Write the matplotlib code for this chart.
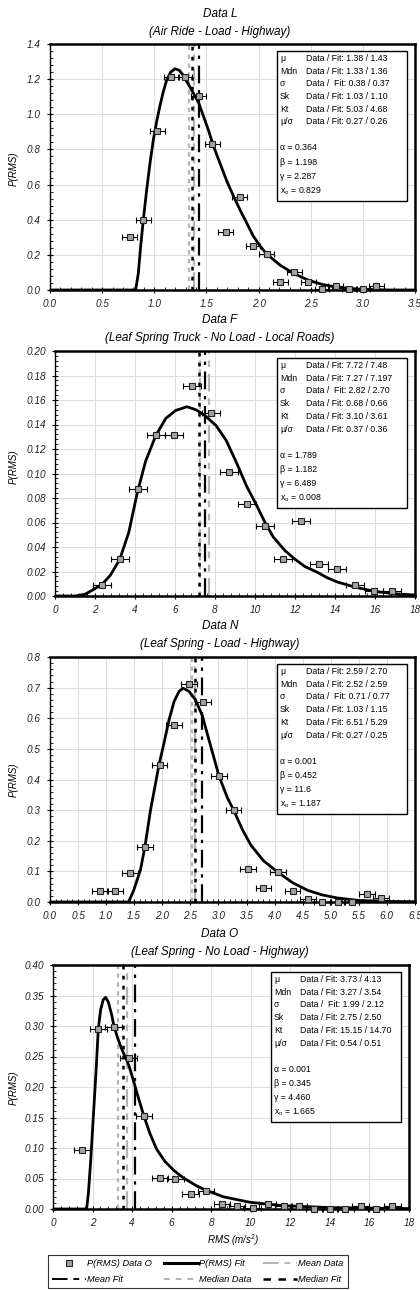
import matplotlib
matplotlib.use('Agg')
import matplotlib.pyplot as plt
from matplotlib.patches import Rectangle
from matplotlib.lines import Line2D
from matplotlib.ticker import MultipleLocator, AutoMinorLocator, FormatStrFormatter

plt.rcParams['font.family'] = ['Liberation Sans', 'DejaVu Sans']
plt.rcParams['mathtext.fontset'] = 'custom'
plt.rcParams['mathtext.rm'] = 'Liberation Sans'
plt.rcParams['mathtext.it'] = 'Liberation Sans:italic'

# ---- Data L (Air Ride - Load - Highway) ----
l_x = [0.764, 0.895, 1.029, 1.163, 1.294, 1.426, 1.556, 1.684, 1.819, 1.946,
       2.077, 2.21, 2.343, 2.477, 2.608, 2.739, 2.87, 3.0, 3.13]
l_y = [0.300, 0.399, 0.904, 1.210, 1.210, 1.105, 0.832, 0.329, 0.528, 0.253,
       0.205, 0.047, 0.103, 0.047, 0.004, 0.025, 0.004, 0.004, 0.025]
l_fit_x = [0.0, 0.821, 0.847, 0.869, 0.895, 0.927, 0.959, 0.991, 1.023, 1.055,
           1.087, 1.119, 1.157, 1.199, 1.240, 1.278, 1.326, 1.374, 1.426, 1.471,
           1.519, 1.567, 1.631, 1.695, 1.759, 1.823, 1.887, 1.951, 2.015, 2.077,
           2.21, 2.343, 2.477, 2.608, 2.739, 2.87, 3.0, 3.13, 3.25, 3.5]
l_fit_y = [0.0, 0.0, 0.095, 0.247, 0.399, 0.570, 0.722, 0.855, 0.960, 1.050,
           1.130, 1.195, 1.240, 1.259, 1.250, 1.222, 1.172, 1.121, 1.064, 0.990,
           0.910, 0.820, 0.720, 0.620, 0.535, 0.455, 0.380, 0.305, 0.250, 0.205,
           0.140, 0.092, 0.056, 0.032, 0.017, 0.009, 0.004, 0.0015, 0.0, 0.0]
l_stats = [('1.38', '1.43'), ('1.33', '1.36'), ('0.38', '0.37'),
           ('1.03', '1.10'), ('5.03', '4.68'), ('0.27', '0.26')]
l_params = ['0.364', '1.198', '2.287', '0.829']

# ---- Data F (Leaf Spring Truck - No Load - Local Roads) ----
f_x = [2.35, 3.24, 4.15, 5.05, 5.94, 6.83, 7.79, 8.70, 9.59, 10.49,
       11.40, 12.31, 13.20, 14.10, 15.01, 15.95, 16.84]
f_y = [0.009, 0.0305, 0.0876, 0.1314, 0.1314, 0.1714, 0.1497, 0.101, 0.0748, 0.0574,
       0.0305, 0.0615, 0.0264, 0.0223, 0.009, 0.004, 0.004]
f_fit_x = [0.0, 1.0, 1.5, 2.0, 2.35, 2.77, 3.24, 3.69, 4.11, 4.53, 5.04, 5.54,
           6.04, 6.6, 7.05, 7.47, 8.06, 8.56, 9.07, 9.57, 10.08, 10.5, 10.92,
           11.5, 12.0, 12.5, 13.1, 13.6, 14.1, 15.0, 16.0, 17.0, 18.0]
f_fit_y = [0.0, 0.0, 0.0014, 0.006, 0.0095, 0.017, 0.030, 0.052, 0.084, 0.110,
           0.131, 0.145, 0.1515, 0.1545, 0.152, 0.1477, 0.139, 0.127, 0.109, 0.090,
           0.074, 0.060, 0.048, 0.037, 0.030, 0.024, 0.0195, 0.015, 0.0115, 0.0072,
           0.0037, 0.0018, 0.0008]
f_stats = [('7.72', '7.48'), ('7.27', '7.197'), ('2.82', '2.70'),
           ('0.68', '0.66'), ('3.10', '3.61'), ('0.37', '0.36')]
f_params = ['1.789', '1.182', '6.489', '0.008']

# ---- Data N (Leaf Spring - Load - Highway) ----
n_x = [0.889, 1.163, 1.431, 1.688, 1.95, 2.21, 2.475, 2.73, 3.005, 3.27,
       3.52, 3.80, 4.06, 4.32, 4.59, 4.85, 5.12, 5.37, 5.65, 5.90]
n_y = [0.035, 0.035, 0.096, 0.180, 0.447, 0.579, 0.711, 0.652, 0.410, 0.301,
       0.108, 0.047, 0.097, 0.035, 0.010, 0.0, 0.0, 0.0, 0.025, 0.012]
n_fit_x = [0.0, 1.40, 1.49, 1.61, 1.69, 1.79, 1.88, 1.94, 2.03, 2.12, 2.21,
           2.30, 2.37, 2.475, 2.59, 2.71, 2.86, 3.01, 3.16, 3.27, 3.43, 3.58,
           3.80, 4.06, 4.32, 4.59, 4.85, 5.12, 5.5, 6.0, 6.5]
n_fit_y = [0.0, 0.0, 0.038, 0.104, 0.180, 0.300, 0.388, 0.447, 0.519, 0.595, 0.655,
           0.688, 0.698, 0.688, 0.660, 0.610, 0.510, 0.411, 0.340, 0.300, 0.235, 0.185,
           0.135, 0.097, 0.063, 0.038, 0.023, 0.013, 0.005, 0.002, 0.001]
n_stats = [('2.59', '2.70'), ('2.52', '2.59'), ('0.71', '0.77'),
           ('1.03', '1.15'), ('6.51', '5.29'), ('0.27', '0.25')]
n_params = ['0.001', '0.452', '11.6', '1.187']

# ---- Data O (Leaf Spring - No Load - Highway) ----
o_x = [1.46, 2.29, 3.07, 3.83, 4.60, 5.41, 6.19, 6.96, 7.73, 8.54, 9.31,
       10.09, 10.85, 11.66, 12.44, 13.21, 14.0, 14.78, 15.56, 16.33, 17.16]
o_y = [0.096, 0.295, 0.299, 0.247, 0.152, 0.051, 0.049, 0.0246, 0.029, 0.0087, 0.0044,
       0.0011, 0.0087, 0.0044, 0.0044, 0.0007, 0.0007, 0.0007, 0.0044, 0.0007, 0.0044]
o_fit_x = [0.0, 1.70, 1.79, 1.91, 2.04, 2.18, 2.29, 2.41, 2.54, 2.66, 2.80, 2.97,
           3.07, 3.25, 3.44, 3.64, 3.83, 4.07, 4.32, 4.60, 4.91, 5.24, 5.66, 6.12,
           6.59, 7.26, 7.72, 8.61, 9.96, 11.6, 14.1, 18.0]
o_fit_y = [0.0, 0.0, 0.026, 0.081, 0.152, 0.228, 0.295, 0.327, 0.343, 0.347, 0.339, 0.318,
           0.302, 0.282, 0.265, 0.250, 0.236, 0.210, 0.182, 0.152, 0.123, 0.098, 0.078, 0.063,
           0.051, 0.038, 0.031, 0.020, 0.011, 0.0055, 0.0022, 0.0007]
o_stats = [('3.73', '4.13'), ('3.27', '3.54'), ('1.99', '2.12'),
           ('2.75', '2.50'), ('15.15', '14.70'), ('0.54', '0.51')]
o_params = ['0.001', '0.345', '4.460', '1.665']

stat_names = ['\u03bc', 'Mdn', '\u03c3', 'Sk', 'Kt', '\u03bc/\u03c3']
param_names = ['\u03b1', '\u03b2', '\u03b3', 'x$_\\mathregular{o}$']

GRAY = '#b4b4b4'
MARK = '#a3a3a3'
W, H = 420, 1290

fig = plt.figure(figsize=(4.2, 12.9), dpi=100)


def px_axes(left, top, right, bottom):
    # pixel box -> figure fraction
    return [left / W, 1 - bottom / H, (right - left) / W, (bottom - top) / H]


def draw_panel(box, title, subtitle, title_y, ylab_y, px, py, xerr, fx, fy,
               stats, params, xmax, xstep, ymax, ystep, xfmt, yfmt):
    ax = fig.add_axes(px_axes(*box))
    ax.set_xlim(0, xmax)
    ax.set_ylim(0, ymax)
    ax.xaxis.set_major_locator(MultipleLocator(xstep))
    ax.yaxis.set_major_locator(MultipleLocator(ystep))
    ax.xaxis.set_minor_locator(AutoMinorLocator(5))
    ax.yaxis.set_minor_locator(AutoMinorLocator(5))
    ax.xaxis.set_major_formatter(FormatStrFormatter(xfmt))
    ax.yaxis.set_major_formatter(FormatStrFormatter(yfmt))
    ax.grid(True, which='major', color='#dcdcdc', lw=0.7)
    ax.set_axisbelow(True)
    ax.tick_params(which='major', direction='inout', length=5, width=0.8,
                   labelsize=7.2, pad=4, labelcolor='#222222')
    ax.tick_params(which='minor', direction='in', length=2.5, width=0.6)
    for lab in ax.get_xticklabels() + ax.get_yticklabels():
        lab.set_style('italic')
    for s in ['top', 'right', 'bottom']:
        ax.spines[s].set_linewidth(1.8)
    ax.spines['left'].set_linewidth(1.0)

    # mean / median lines
    mean_d, mean_f = float(stats[0][0]), float(stats[0][1])
    med_d, med_f = float(stats[1][0]), float(stats[1][1])
    ax.axvline(med_d, color=GRAY, lw=1.6, dashes=(2, 2), zorder=2)
    ax.axvline(mean_d, color=GRAY, lw=1.6, dashes=(8, 3, 3, 3, 3, 3), zorder=2)
    ax.axvline(med_f, color='k', lw=1.8, dashes=(1.5, 2.5), zorder=2)
    ax.axvline(mean_f, color='k', lw=1.6, dashes=(8, 3, 1.5, 3), zorder=2)

    ax.plot(fx, fy, color='k', lw=2, zorder=4)
    eb = ax.errorbar(px, py, xerr=xerr, fmt='s', ms=5, mfc=MARK, mec='#222222',
                     mew=0.8, ecolor='k', elinewidth=0.8, capsize=2.2,
                     capthick=0.8, zorder=5)
    for art in eb.get_children():
        art.set_clip_on(False)

    # stats box (pixel offsets from the axes corner)
    aw, ah = box[2] - box[0], box[3] - box[1]
    bl, bt, bw, bh = aw - 138, 7, 130, 150
    ax.add_patch(Rectangle((bl / aw, 1 - (bt + bh) / ah), bw / aw, bh / ah,
                           transform=ax.transAxes, fc='white', ec='k', lw=1.0,
                           zorder=6))
    for i, (name, (d, f)) in enumerate(zip(stat_names, stats)):
        yy = 1 - (bt + 7.5 + i * 12.7) / ah
        ax.text((bl + 3) / aw, yy, name, transform=ax.transAxes, fontsize=6.3,
                va='center', zorder=7)
        sep = ' /  Fit: ' if name == '\u03c3' else ' / Fit: '
        ax.text((bl + 29) / aw, yy, 'Data' + sep + d + ' / ' + f,
                transform=ax.transAxes, fontsize=6.3, va='center', zorder=7)
    for i, (name, val) in enumerate(zip(param_names, params)):
        yy = 1 - (bt + 97 + i * 14.4) / ah
        ax.text((bl + 3) / aw, yy, name + ' = ' + val, transform=ax.transAxes,
                fontsize=6.3, va='center', zorder=7)

    fig.text(220 / W, 1 - title_y / H, title, ha='center', va='center',
             style='italic', fontsize=8.5)
    fig.text(220 / W, 1 - (title_y + 18) / H, subtitle, ha='center', va='center',
             style='italic', fontsize=8.5)
    fig.text(14 / W, 1 - ylab_y / H, 'P(RMS)', rotation=90, ha='center',
             va='center', style='italic', fontsize=7)
    return ax


draw_panel((50, 44, 415, 290), 'Data L', '(Air Ride - Load - Highway)', 14, 169,
           l_x, l_y, 0.07, l_fit_x, l_fit_y, l_stats, l_params,
           3.5, 0.5, 1.4, 0.2, '%.1f', '%.1f')
draw_panel((55, 351, 415, 596), 'Data F', '(Leaf Spring Truck - No Load - Local Roads)',
           320, 467, f_x, f_y, 0.45, f_fit_x, f_fit_y, f_stats, f_params,
           18, 2, 0.2, 0.02, '%d', '%.2f')
draw_panel((50, 657, 415, 902), 'Data N', '(Leaf Spring - Load - Highway)', 626, 780,
           n_x, n_y, 0.14, n_fit_x, n_fit_y, n_stats, n_params,
           6.5, 0.5, 0.8, 0.1, '%.1f', '%.1f')
draw_panel((53, 965, 409, 1209), 'Data O', '(Leaf Spring - No Load - Highway)', 934, 1088,
           o_x, o_y, 0.42, o_fit_x, o_fit_y, o_stats, o_params,
           18, 2, 0.4, 0.05, '%d', '%.2f')

fig.text(233 / W, 1 - 1240 / H, 'RMS (m/s$^{2}$)', ha='center', va='center',
         style='italic', fontsize=7)

# legend, filled column by column -> order picked so rows read like the original
h_data = Line2D([], [], ls='none', marker='s', ms=5, mfc=MARK, mec='#222222', mew=0.8)
h_fit = Line2D([], [], color='k', lw=2.2)
h_mean_d = Line2D([], [], color=GRAY, lw=1.4, dashes=(8, 3, 3, 3, 3, 3))
h_mean_f = Line2D([], [], color='k', lw=1.4, dashes=(8, 3, 3, 3))
h_med_d = Line2D([], [], color=GRAY, lw=1.4, dashes=(3, 3))
h_med_f = Line2D([], [], color='k', lw=1.8, dashes=(3, 3))
handles = [h_data, h_mean_f, h_fit, h_med_d, h_mean_d, h_med_f]
labels = ['P(RMS) Data O', 'Mean Fit', 'P(RMS) Fit', 'Median Data',
          'Mean Data', 'Median Fit']
leg = fig.legend(handles, labels, ncol=3, loc='upper left',
                 bbox_to_anchor=(48 / W, 1 - 1255 / H),
                 fontsize=6.7, frameon=True, fancybox=False,
                 edgecolor='k', handlelength=3.6, handletextpad=0.15,
                 borderpad=0.45, labelspacing=0.75, columnspacing=1.3,
                 borderaxespad=0)
leg.get_frame().set_linewidth(0.8)
for t in leg.get_texts():
    t.set_style('italic')

fig.savefig('out.png', dpi=100)
